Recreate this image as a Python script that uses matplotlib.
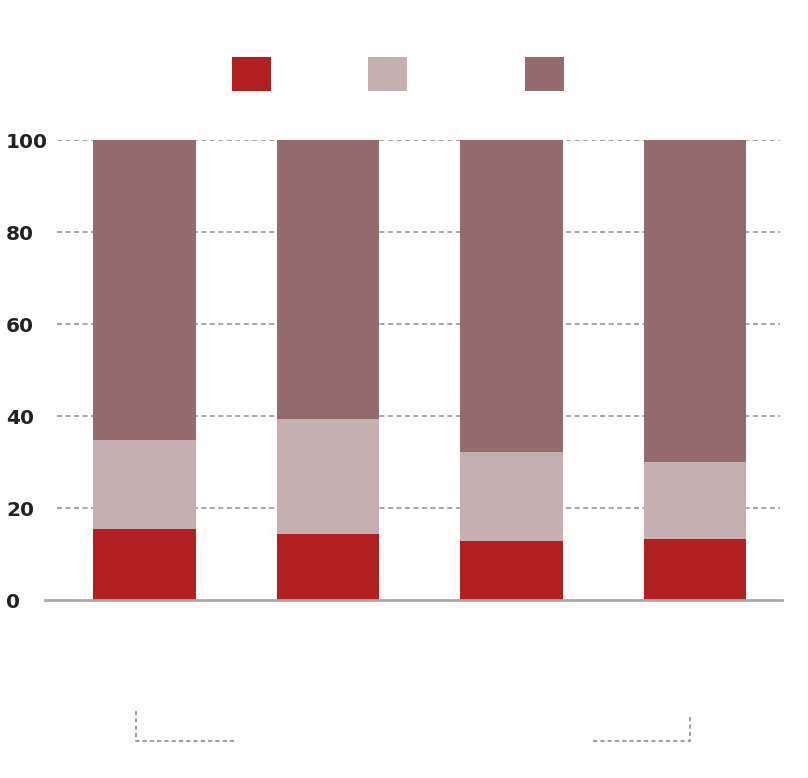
import matplotlib
matplotlib.use("Agg")
import matplotlib.pyplot as plt
from matplotlib.lines import Line2D
from matplotlib.patches import Rectangle
import matplotlib.transforms as mtransforms
import numpy as np

# Data
categories = ["A", "B", "C", "D"]
seg_bottom = [15.4, 14.3, 12.8, 13.3]
seg_middle = [19.4, 25.0, 19.4, 16.7]
seg_top = [65.2, 60.7, 67.8, 70.0]
colors = ["#B22022", "#C5AFB0", "#956B6E"]
y_ticks = [0, 20, 40, 60, 80, 100]

W, H = 808, 778
fig = plt.figure(figsize=(W / 100, H / 100), dpi=100)
fig.patch.set_facecolor("white")

def fx(px):
    return px / W

def fy(py):
    return 1 - py / H

ax_l, ax_r, ax_t, ax_b = 57, 780, 140, 600
ax = fig.add_axes([fx(ax_l), fy(ax_b), (ax_r - ax_l) / W, (ax_b - ax_t) / H])

x = np.arange(len(categories))
width = 0.56
b1 = np.array(seg_bottom)
b2 = b1 + np.array(seg_middle)
ax.bar(x, seg_bottom, width, color=colors[0], zorder=3)
ax.bar(x, seg_middle, width, bottom=b1, color=colors[1], zorder=3)
ax.bar(x, seg_top, width, bottom=b2, color=colors[2], zorder=3)

ax.set_xlim(-0.477, 3.463)
ax.set_ylim(0, 100)

for t in y_ticks[1:]:
    ax.axhline(t, color="#a0a0a0", lw=1.3, ls=(0, (2.8, 1.9)), zorder=1)

ax.axhline(0, xmin=(45 - ax_l) / (ax_r - ax_l), xmax=(782 - ax_l) / (ax_r - ax_l),
           color="#aaaaaa", lw=2, clip_on=False, zorder=4)

for s in ax.spines.values():
    s.set_visible(False)
ax.set_xticks([])
ax.set_yticks([])

# y tick labels, left aligned
trans = mtransforms.blended_transform_factory(fig.transFigure, ax.transData)
for t in y_ticks:
    ax.text(fx(6), t - 0.6, str(t), transform=trans, ha="left", va="center",
            fontsize=14.5, fontweight="bold", color="#222222",
            family="DejaVu Sans", clip_on=False)

# Legend swatches (labels absent in reference)
for px, c in zip([232, 368, 525], colors):
    fig.add_artist(Rectangle((fx(px), fy(91)), 39 / W, 34 / H,
                             transform=fig.transFigure, facecolor=c, edgecolor="none"))

# Bottom brackets
bk = dict(color="#a0a0a0", lw=1.5, ls=(0, (2, 1.5)), transform=fig.transFigure)
fig.add_artist(Line2D([fx(136), fx(136), fx(235)], [fy(711), fy(741), fy(741)], **bk))
fig.add_artist(Line2D([fx(593), fx(690), fx(690)], [fy(741), fy(741), fy(715)], **bk))

fig.savefig("out.png", dpi=100, facecolor="white")
